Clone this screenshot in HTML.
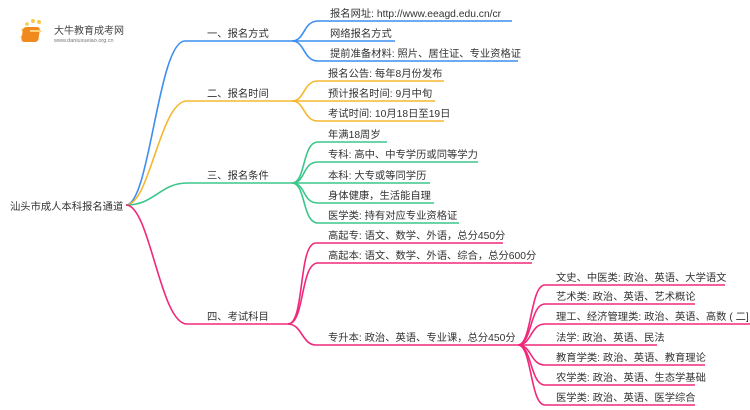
<!DOCTYPE html>
<html><head><meta charset="utf-8"><style>
html,body{margin:0;padding:0;background:#fff;width:750px;height:410px;overflow:hidden}
svg text{font-family:"Liberation Sans","Noto Sans CJK SC",sans-serif;font-size:10.3px;fill:#333}
</style></head><body>
<svg width="750" height="410" viewBox="0 0 750 410" xmlns="http://www.w3.org/2000/svg">
<g>
<circle cx="23" cy="30" r="1.5" fill="#f8c84a"/><circle cx="27" cy="24" r="1.8" fill="#f8c84a"/><circle cx="33" cy="21" r="2" fill="#f8c84a"/><circle cx="39" cy="22" r="2" fill="#f8c84a"/><circle cx="22" cy="37" r="1.5" fill="#f8c84a"/>
<rect x="27" y="27" width="17" height="15" rx="3" fill="#f08a1e" transform="skewX(-8)"/>
<rect x="30" y="30" width="11" height="2" fill="#ffd27a"/>
<text x="54" y="34" style="font-size:10px;fill:#444">大牛教育成考网</text>
<text x="54" y="42" style="font-size:5.5px;fill:#777">www.daniuxueiao.org.cn</text>
</g>
<g fill="none" stroke-width="1.6">
<path d="M126 205 C150 205 158 41 185 41 L292 41" stroke="#3d8ef0"/>
<path d="M126 205 C150 205 160 101 187 101 L292 101" stroke="#f5b731"/>
<path d="M126 205 C155 205 160 183 187 183 L292 183" stroke="#3cc68a"/>
<path d="M126 205 C150 205 160 324 187 324 L288 324" stroke="#f0287a"/>
<path d="M292 41 C305 41 303 21 318 21 L512 21" stroke="#3d8ef0"/>
<path d="M292 41 L395 41" stroke="#3d8ef0"/>
<path d="M292 41 C305 41 303 61 318 61 L518 61" stroke="#3d8ef0"/>
<path d="M292 101 C305 101 303 81 318 81 L444 81" stroke="#f5b731"/>
<path d="M292 101 L435 101" stroke="#f5b731"/>
<path d="M292 101 C305 101 303 121 318 121 L444 121" stroke="#f5b731"/>
<path d="M292 183 C306 183 302 142 318 142 L387 142" stroke="#3cc68a"/>
<path d="M292 183 C306 183 302 162 318 162 L478 162" stroke="#3cc68a"/>
<path d="M292 183 L430 183" stroke="#3cc68a"/>
<path d="M292 183 C306 183 302 203 318 203 L434 203" stroke="#3cc68a"/>
<path d="M292 183 C306 183 302 223 318 223 L459 223" stroke="#3cc68a"/>
<path d="M288 324 C305 324 298 243 316 243 L503 243" stroke="#f0287a"/>
<path d="M288 324 C305 324 300 263 318 263 L532 263" stroke="#f0287a"/>
<path d="M288 324 C302 324 302 345 316 345 L518 345" stroke="#f0287a"/>
<path d="M518 345 C532 345 530 285 545 285 L725 285" stroke="#f0287a"/>
<path d="M518 345 C532 345 530 304 545 304 L695 304" stroke="#f0287a"/>
<path d="M518 345 C532 345 530 324 545 324 L750 324" stroke="#f0287a"/>
<path d="M518 345 L657 345" stroke="#f0287a"/>
<path d="M518 345 C532 345 530 365 545 365 L705 365" stroke="#f0287a"/>
<path d="M518 345 C532 345 530 385 545 385 L695 385" stroke="#f0287a"/>
<path d="M518 345 C532 345 530 405 545 405 L695 405" stroke="#f0287a"/>
</g>
<text x="10" y="210">汕头市成人本科报名通道</text>
<text x="207" y="37">一、报名方式</text>
<text x="207" y="97">二、报名时间</text>
<text x="207" y="179">三、报名条件</text>
<text x="207" y="320">四、考试科目</text>
<text x="330" y="17">报名网址: http://www.eeagd.edu.cn/cr</text>
<text x="330" y="37">网络报名方式</text>
<text x="330" y="57">提前准备材料: 照片、居住证、专业资格证</text>
<text x="328" y="77">报名公告: 每年8月份发布</text>
<text x="328" y="97">预计报名时间: 9月中旬</text>
<text x="328" y="117">考试时间: 10月18日至19日</text>
<text x="328" y="138">年满18周岁</text>
<text x="328" y="158">专科: 高中、中专学历或同等学力</text>
<text x="328" y="179">本科: 大专或等同学历</text>
<text x="328" y="199">身体健康，生活能自理</text>
<text x="328" y="219">医学类: 持有对应专业资格证</text>
<text x="328" y="239">高起专: 语文、数学、外语，总分450分</text>
<text x="328" y="259">高起本: 语文、数学、外语、综合，总分600分</text>
<text x="328" y="341">专升本: 政治、英语、专业课，总分450分</text>
<text x="556" y="281">文史、中医类: 政治、英语、大学语文</text>
<text x="556" y="300">艺术类: 政治、英语、艺术概论</text>
<text x="556" y="320">理工、经济管理类: 政治、英语、高数 ( 二]</text>
<text x="556" y="341">法学: 政治、英语、民法</text>
<text x="556" y="361">教育学类: 政治、英语、教育理论</text>
<text x="556" y="381">农学类: 政治、英语、生态学基础</text>
<text x="556" y="401">医学类: 政治、英语、医学综合</text>
</svg>
</body></html>
